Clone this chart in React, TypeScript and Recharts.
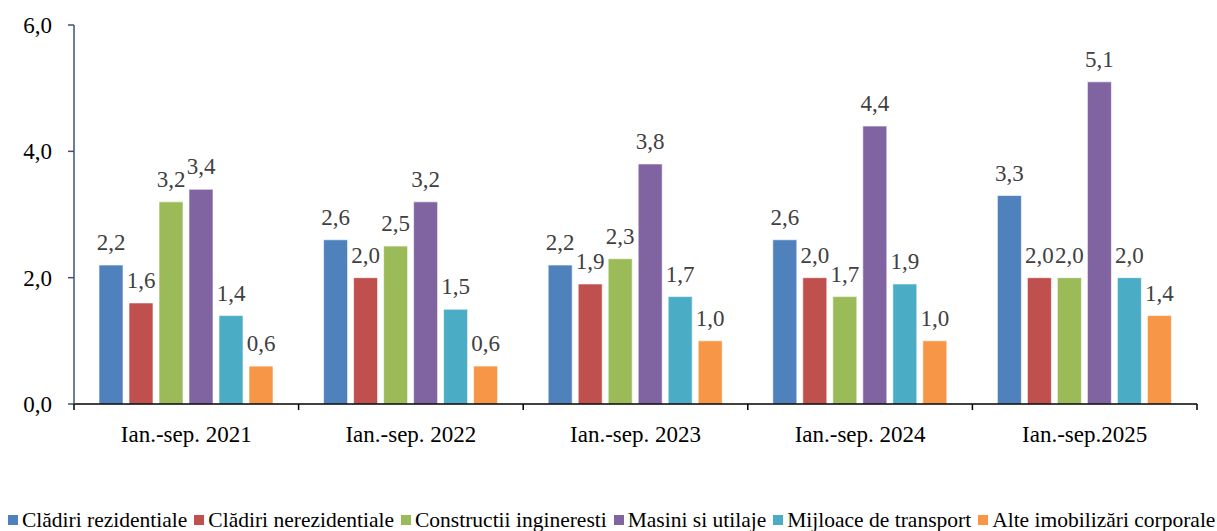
import React from 'react';
import { BarChart, Bar, XAxis, YAxis, LabelList } from 'recharts';

const categories = ['Ian.-sep. 2021', 'Ian.-sep. 2022', 'Ian.-sep. 2023', 'Ian.-sep. 2024', 'Ian.-sep.2025'];
const rezidentiale = [2.2, 2.6, 2.2, 2.6, 3.3];
const nerezidentiale = [1.6, 2.0, 1.9, 2.0, 2.0];
const constructii = [3.2, 2.5, 2.3, 1.7, 2.0];
const masini = [3.4, 3.2, 3.8, 4.4, 5.1];
const mijloace = [1.4, 1.5, 1.7, 1.9, 2.0];
const alte = [0.6, 0.6, 1.0, 1.0, 1.4];
const yTicks = [0, 2, 4, 6];

const series = [
  { key: 'rez', name: 'Clădiri rezidentiale', values: rezidentiale, color: '#4F81BD' },
  { key: 'nerez', name: 'Clădiri nerezidentiale', values: nerezidentiale, color: '#C0504D' },
  { key: 'constr', name: 'Constructii ingineresti', values: constructii, color: '#9BBB59' },
  { key: 'mas', name: 'Masini si utilaje', values: masini, color: '#8064A2' },
  { key: 'mij', name: 'Mijloace de transport', values: mijloace, color: '#4BACC6' },
  { key: 'alte', name: 'Alte imobilizări corporale', values: alte, color: '#F79646' },
];

const data = categories.map((cat, i) => {
  const row: Record<string, string | number> = { cat };
  series.forEach((s) => (row[s.key] = s.values[i]));
  return row;
});

const W = 1217;
const H = 531;
const margin = { top: 25, right: 20, left: 0, bottom: 87 };
const yAxisWidth = 74;
const band = (W - margin.left - margin.right - yAxisWidth) / categories.length;

const FONT = '"Liberation Serif", "Times New Roman", serif';
const fmt = (v: number) => v.toFixed(1).replace('.', ',');

const CatTick = (props: any) => {
  const { x, y, payload, index } = props;
  return (
    <g>
      <line x1={x - band / 2} y1={y - 8} x2={x - band / 2} y2={y - 2} stroke="#000" strokeWidth={1.5} />
      {index === categories.length - 1 && (
        <line x1={x + band / 2} y1={y - 8} x2={x + band / 2} y2={y - 2} stroke="#000" strokeWidth={1.5} />
      )}
      <text x={x} y={y + 30} textAnchor="middle" fontSize={23} fill="#000" style={{ fontFamily: FONT }}>
        {payload.value}
      </text>
    </g>
  );
};

const ValueTick = (props: any) => {
  const { x, y, payload } = props;
  return (
    <text x={x} y={y + 8} textAnchor="end" fontSize={23} fill="#000" style={{ fontFamily: FONT }}>
      {fmt(Number(payload.value))}
    </text>
  );
};

const BarLabel = (props: any) => {
  const { x, y, width, value } = props;
  return (
    <text x={x + width / 2} y={y - 15} textAnchor="middle" fontSize={23} fill="#404040" style={{ fontFamily: FONT }}>
      {fmt(Number(value))}
    </text>
  );
};

export default function App() {
  return (
    <div style={{ position: 'absolute', left: 0, top: 0, width: W, height: H, background: '#fff', fontFamily: FONT }}>
      <BarChart width={W} height={H} data={data} margin={margin} barSize={24} barGap={6}>
        <XAxis
          dataKey="cat"
          axisLine={{ stroke: '#000', strokeWidth: 1.5 }}
          tickLine={false}
          tick={<CatTick />}
          height={40}
          interval={0}
        />
        <YAxis
          domain={[0, 6]}
          ticks={yTicks}
          width={yAxisWidth}
          axisLine={{ stroke: '#3B5477', strokeWidth: 1.5 }}
          tickLine={{ stroke: '#3B5477', strokeWidth: 1.5 }}
          tickSize={6}
          tickMargin={16}
          tick={<ValueTick />}
        />
        {series.map((s) => (
          <Bar key={s.key} dataKey={s.key} name={s.name} fill={s.color} stroke="#ffffff" strokeOpacity={0.6} strokeWidth={1} isAnimationActive={false}>
            <LabelList dataKey={s.key} content={<BarLabel />} />
          </Bar>
        ))}
      </BarChart>
      <div
        style={{
          position: 'absolute',
          left: 8,
          top: 508,
          display: 'flex',
          alignItems: 'center',
          whiteSpace: 'nowrap',
          fontSize: 21.5,
          color: '#000',
          lineHeight: '24px',
        }}
      >
        {series.map((s) => (
          <div key={s.key} style={{ display: 'flex', alignItems: 'center', marginRight: 7 }}>
            <span style={{ width: 10, height: 10, background: s.color, display: 'inline-block', marginRight: 4 }} />
            <span>{s.name}</span>
          </div>
        ))}
      </div>
    </div>
  );
}
